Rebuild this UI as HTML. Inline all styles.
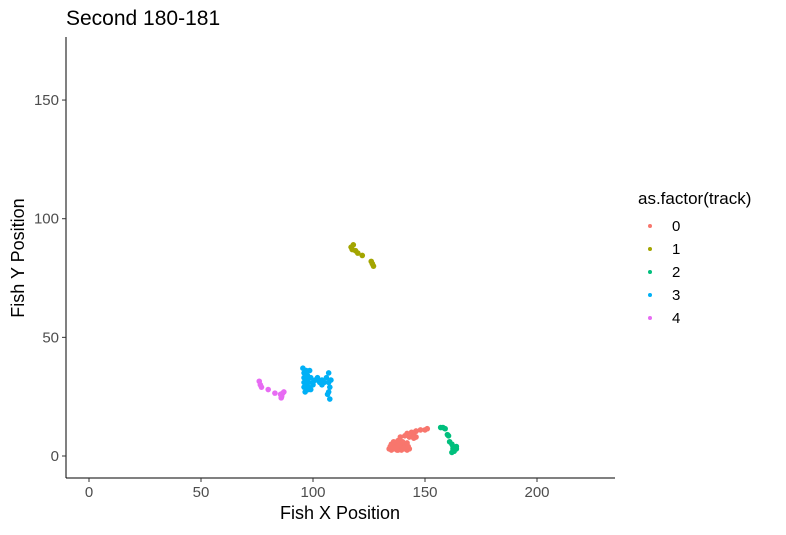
<!DOCTYPE html>
<html><head><meta charset="utf-8"><style>
body{margin:0;background:#fff;font-family:"Liberation Sans",sans-serif}
</style></head><body>
<svg id="c" width="786" height="530" xmlns="http://www.w3.org/2000/svg"></svg>
<script>
const xTicks=[0,50,100,150,200];
const yTicks=[0,50,100,150];
const tracks=["0","1","2","3","4"];
const colors=["#F8766D","#A3A500","#00BF7D","#00B0F6","#E76BF3"];
const t0x=[134,135,136,137,138,139,140,141,142,143,135,137,139,141,136,138,140,142,139,141,143,145,146,142,144,146,148,150,151,146,145,134.5,136.5,138.5,140.5,142.5,137.5,139.5];
const t0y=[3,2.5,3,4,2.5,3,4,3,2.5,3,5,5.5,5,4.5,6,6.5,6,5.5,8,8.5,8,7.5,8,9.5,10,10.5,11,11,11.5,10.5,9,4,3.5,4.5,3.5,4,2.5,2.5];
const t1x=[117,117.5,118,119,120,122,126,126.5,127];
const t1y=[88,87,89,86.5,85.5,84.5,82,81,80];
const t2x=[157,158,159,160,160.5,161,162,162.5,163,164,163,164,162,163.5,162.5];
const t2y=[12,12,11.5,9,8.5,6,5,3,2.5,3,2,4,1.5,3.5,4];
const t3x=[95.5,96,96,97,97,98,98,96.5,97.5,98.5,99,100,101,102,103,104,105,98,99,106,107,107,107.5,107,106.5,107.5,108,96,97,96,97,98,100,102,104];
const t3y=[37,35,33,32,30,28,31,27,34,36,33,31,32,33,31,30,31,29,28,33,35,31,29,27,26,24,32,29,36,31,29,33,30,32,32];
const t4x=[76,76.5,77,80,83,85.5,86,86.5,87,85.8];
const t4y=[31.5,30,29,28,26.5,26,25,26.5,27,24.5];
const seriesX=[t0x,t1x,t2x,t3x,t4x];
const seriesY=[t0y,t1y,t2y,t3y,t4y];
const L=66,R=615,T=37,B=478;
const sx=v=>89+v*2.24;
const sy=v=>456-v*2.373;
const svg=document.getElementById('c');
const NS="http://www.w3.org/2000/svg";
function mk(tag,attrs,txt){const e=document.createElementNS(NS,tag);for(const k in attrs)e.setAttribute(k,attrs[k]);if(txt!=null)e.textContent=txt;svg.appendChild(e);return e;}
let e;
e=mk('text',{x:66,y:25,'font-size':21,fill:'#000'},'Second 180-181');


e=mk('line',{x1:L,y1:T,x2:L,y2:B,stroke:'#000','stroke-width':1});


e=mk('line',{x1:L,y1:B,x2:R,y2:B,stroke:'#000','stroke-width':1});


xTicks.forEach(v=>{
 e=mk('line',{x1:sx(v),y1:B,x2:sx(v),y2:B+4,stroke:'#333'});
 
 
 e=mk('text',{x:sx(v),y:B+19,'font-size':15,fill:'#4d4d4d','text-anchor':'middle'},v);
 
 
});
yTicks.forEach(v=>{
 e=mk('line',{x1:L-4,y1:sy(v),x2:L,y2:sy(v),stroke:'#333'});
 
 
 e=mk('text',{x:L-7,y:sy(v)+5,'font-size':15,fill:'#4d4d4d','text-anchor':'end'},v);
 
 
});
e=mk('text',{x:340,y:519,'font-size':18,fill:'#000','text-anchor':'middle'},'Fish X Position');


e=mk('text',{x:0,y:0,'font-size':18,fill:'#000','text-anchor':'middle',transform:'translate(24,258) rotate(-90)'},'Fish Y Position');


seriesX.forEach((xs,i)=>{
 xs.forEach((xv,j)=>{
  e=mk('circle',{cx:sx(xv),cy:sy(seriesY[i][j]),r:2.8,fill:colors[i]});
  
  
 });
});
e=mk('text',{x:638,y:204,'font-size':17,fill:'#000'},'as.factor(track)');


tracks.forEach((t,i)=>{
 const y=226+i*23;
 e=mk('circle',{cx:650,cy:y,r:2,fill:colors[i]});
 
 
 e=mk('text',{x:672,y:y+5,'font-size':15,fill:'#000'},t);
 
 
});
</script>
</body></html>
